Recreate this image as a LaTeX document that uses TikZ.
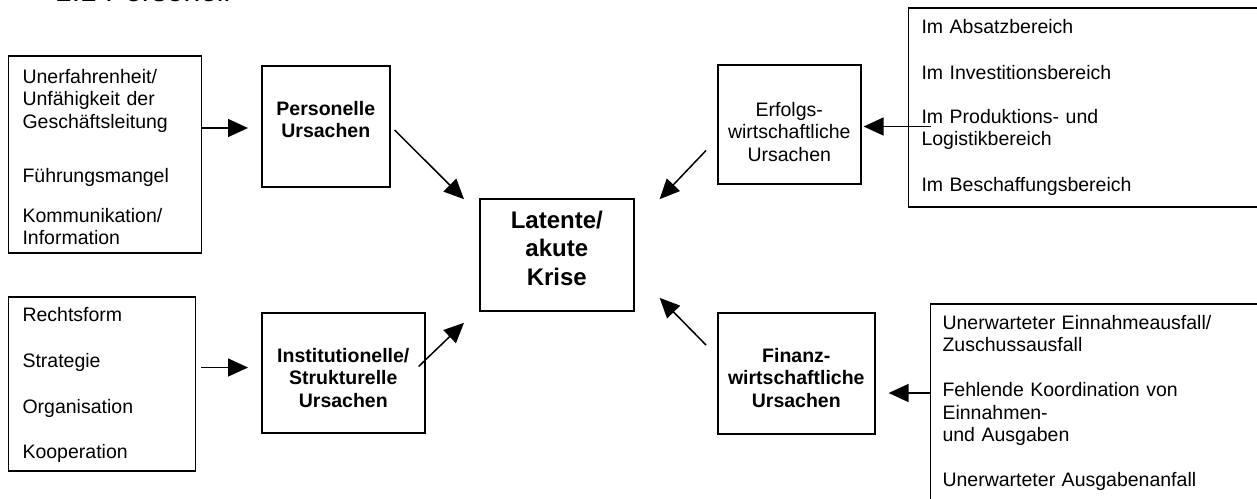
\documentclass[tikz,border=0pt]{standalone}
\usepackage{fontspec}
\setmainfont{Liberation Sans}
\usetikzlibrary{positioning,calc,arrows.meta}

\tikzset{
  ursache/.style={draw, line width=1.6pt, align=center, anchor=base west,
    inner xsep=0pt, inner ysep=0pt, text height=49pt, text depth=72pt,
    font=\fontsize{19.5}{22.5}\selectfont},
  fett/.style={font=\fontsize{19.5}{22.5}\selectfont\bfseries},
  liste/.style={draw, line width=1.1pt, align=left, anchor=base west,
    inner ysep=10pt, font=\fontsize{19.5}{22.5}\selectfont},
  pfeil/.style={line width=1.5pt, -{Triangle[length=20pt,width=18pt]}}
}

\begin{document}
\begin{tikzpicture}[x=1pt,y=-1pt]
  \useasboundingbox (0,0) rectangle (1257,498);
  \clip (0,0) rectangle (1257,498);

  % Ueberschrift, oben abgeschnitten
  \node[anchor=base west, inner sep=0pt, font=\fontsize{30}{36}\selectfont] (titel) at (55,1.5) {1.1 Personell};

  % Mitte
  \node[ursache, fett, font=\fontsize{24}{28.5}\selectfont\bfseries, text width=154pt,
    text height=29pt, text depth=83pt] (krise) at (479,228) {Latente/\\akute\\Krise};

  % Ursachen links
  \node[ursache, fett, text width=128pt, text depth=72pt] (pers) at (261,115) {Personelle\\Ursachen};
  \node[ursache, fett, text width=163pt, text depth=71pt] (inst) at (261,362) {Institutionelle/\\Strukturelle\\Ursachen};

  % Ursachen rechts
  \node[ursache, text width=143pt, text height=51pt, text depth=68pt] (erf) at (717,116) {Erfolgs-\\wirtschaftliche\\Ursachen};
  \node[ursache, fett, text width=157pt, text depth=72pt] (fin) at (717,362) {Finanz-\\wirtschaftliche\\Ursachen};

  % Listen
  \node[liste, inner xsep=14pt, text width=165pt, text height=17pt, text depth=160pt] (persliste) at (8,83)
    {Unerfahrenheit/\\Unf\"ahigkeit der\\Gesch\"aftsleitung\\[32pt]F\"uhrungsmangel\\[17pt]Kommunikation/\\Information};
  \node[liste, inner xsep=14pt, text width=159pt, text height=14pt, text depth=140pt] (instliste) at (8,321)
    {Rechtsform\\[23.5pt]Strategie\\[23.5pt]Organisation\\[22.5pt]Kooperation};
  \node[liste, inner xsep=13pt, text width=330pt, text height=15pt, text depth=164pt] (erfliste) at (908,33)
    {Im Absatzbereich\\[23.5pt]Im Investitionsbereich\\[21.5pt]Im Produktions- und\\Logistikbereich\\[23.5pt]Im Beschaffungsbereich};
  \node[liste, inner xsep=12pt, text width=320pt, text height=15pt, text depth=200pt] (finliste) at (930,329)
    {Unerwarteter Einnahmeausfall/\\Zuschussausfall\\[22.5pt]Fehlende Koordination von\\Einnahmen-\\und Ausgaben\\[22.5pt]Unerwarteter Ausgabenanfall};

  % Pfeile
  \draw[pfeil, shorten >=13pt] ($(persliste.east |- pers.west)+(0,1.5)$) -- ($(pers.west)+(0,1.5)$);
  \draw[pfeil, shorten <=5pt, shorten >=13pt] ($(instliste.east |- inst.west)+(0,-5.5)$) -- ($(inst.west)+(0,-5.5)$);
  \draw[pfeil, shorten >=2pt] ($(erfliste.west |- erf.east)+(23,2)$) -- ($(erf.east)+(0,2)$);
  \draw[pfeil, shorten >=13pt] ($(finliste.west |- fin.east)+(0,19.5)$) -- ($(fin.east)+(0,19.5)$);

  \draw[pfeil] ($(pers.east)+(4,3.5)$) -- ($(krise.north west)+(-15,1)$);
  \draw[pfeil] ($(inst.east)+(-7,-6.5)$) -- ($(krise.south west)+(-15,11)$);
  \draw[pfeil] ($(erf.west)+(-11,26)$) -- ($(krise.north east)+(25,1)$);
  \draw[pfeil] ($(fin.west)+(-11,-28.5)$) -- ($(krise.south east)+(25,-14)$);
\end{tikzpicture}
\end{document}
